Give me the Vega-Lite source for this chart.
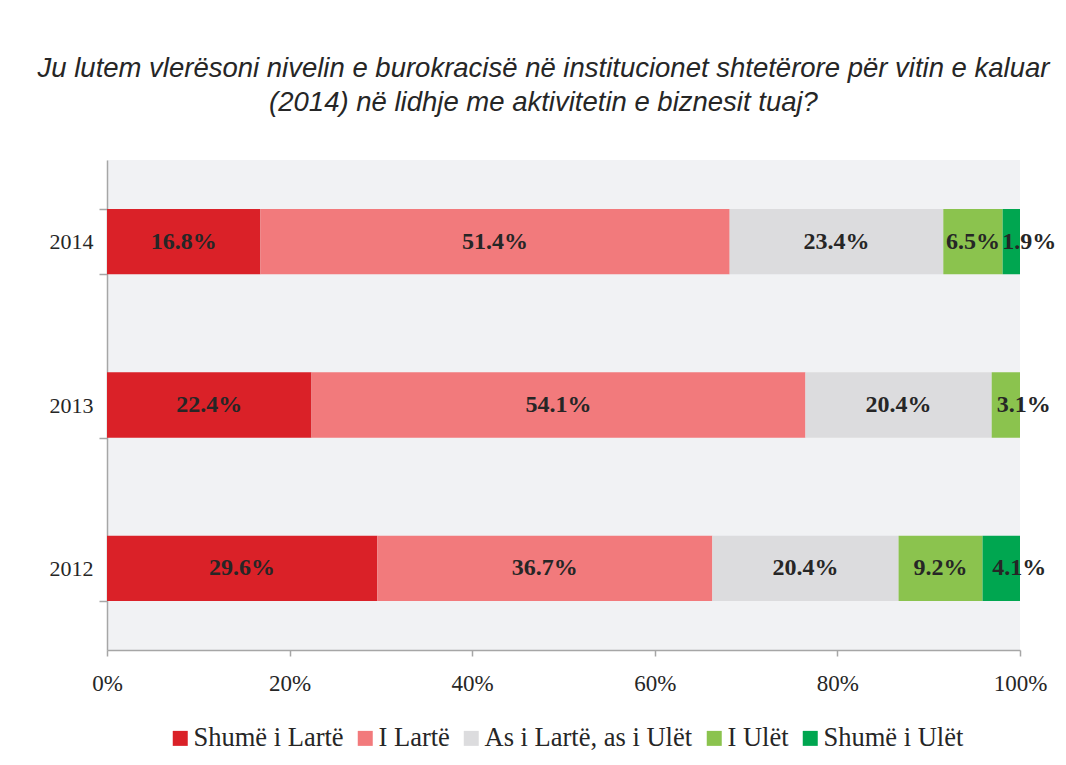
{
  "$schema": "https://vega.github.io/schema/vega-lite/v6.json",
  "width": 913,
  "height": 490,
  "autosize": {"type": "none"},
  "padding": {"left": 107, "top": 160, "right": 46, "bottom": 115},
  "background": "white",
  "title": {
    "text": ["Ju lutem vlerësoni nivelin e burokracisë në institucionet shtetërore për vitin e kaluar", "(2014) në lidhje me aktivitetin e biznesit tuaj?"],
    "font": "Liberation Sans",
    "fontStyle": "italic",
    "fontWeight": "normal",
    "fontSize": 27.5,
    "lineHeight": 34,
    "color": "#262626",
    "anchor": "middle",
    "dx": -20,
    "offset": 33
  },
  "data": {
    "values": [
      {"year": "2014", "cat": "Shumë i Lartë", "order": 1, "value": 0.168},
      {"year": "2014", "cat": "I Lartë", "order": 2, "value": 0.514},
      {"year": "2014", "cat": "As i Lartë, as i Ulët", "order": 3, "value": 0.234},
      {"year": "2014", "cat": "I Ulët", "order": 4, "value": 0.065},
      {"year": "2014", "cat": "Shumë i Ulët", "order": 5, "value": 0.019},
      {"year": "2013", "cat": "Shumë i Lartë", "order": 1, "value": 0.224},
      {"year": "2013", "cat": "I Lartë", "order": 2, "value": 0.541},
      {"year": "2013", "cat": "As i Lartë, as i Ulët", "order": 3, "value": 0.204},
      {"year": "2013", "cat": "I Ulët", "order": 4, "value": 0.031},
      {"year": "2012", "cat": "Shumë i Lartë", "order": 1, "value": 0.296},
      {"year": "2012", "cat": "I Lartë", "order": 2, "value": 0.367},
      {"year": "2012", "cat": "As i Lartë, as i Ulët", "order": 3, "value": 0.204},
      {"year": "2012", "cat": "I Ulët", "order": 4, "value": 0.092},
      {"year": "2012", "cat": "Shumë i Ulët", "order": 5, "value": 0.041}
    ]
  },
  "encoding": {
    "y": {
      "field": "year",
      "type": "nominal",
      "sort": "descending",
      "scale": {"paddingInner": 0.6, "paddingOuter": 0.3},
      "axis": {
        "title": null,
        "tickBand": "extent",
        "tickSize": 8,
        "tickColor": "#A6A6A6",
        "domainColor": "#A6A6A6",
        "domainWidth": 1.5,
        "tickWidth": 1.5,
        "labelFont": "Liberation Serif",
        "labelFontSize": 22,
        "labelColor": "#262626",
        "labelPadding": 6
      }
    },
    "x": {
      "field": "value",
      "type": "quantitative",
      "stack": "zero",
      "scale": {"domain": [0, 1], "nice": false},
      "axis": {
        "title": null,
        "values": [0, 0.2, 0.4, 0.6, 0.8, 1],
        "format": ".0%",
        "grid": false,
        "labelFlush": false,
        "tickSize": 6,
        "tickColor": "#A6A6A6",
        "domainColor": "#A6A6A6",
        "domainWidth": 1.5,
        "tickWidth": 1.5,
        "labelFont": "Liberation Serif",
        "labelFontSize": 23,
        "labelColor": "#262626",
        "labelPadding": 16
      }
    },
    "order": {"field": "order", "type": "quantitative", "sort": "ascending"}
  },
  "layer": [
    {
      "mark": {"type": "bar"},
      "encoding": {
        "color": {
          "field": "cat",
          "type": "nominal",
          "sort": ["Shumë i Lartë", "I Lartë", "As i Lartë, as i Ulët", "I Ulët", "Shumë i Ulët"],
          "scale": {
            "domain": ["Shumë i Lartë", "I Lartë", "As i Lartë, as i Ulët", "I Ulët", "Shumë i Ulët"],
            "range": ["#DA2128", "#F27A7C", "#DCDCDE", "#8BC34E", "#00A650"]
          },
          "legend": {
            "title": null,
            "orient": "none",
            "legendX": 60,
            "legendY": 565,
            "direction": "horizontal",
            "symbolType": "square",
            "symbolSize": 225,
            "symbolStrokeWidth": 0,
            "labelFont": "Liberation Serif",
            "labelFontSize": 26.5,
            "labelColor": "#262626",
            "labelLimit": 400,
            "labelOffset": 0,
            "columnPadding": 8
          }
        }
      }
    },
    {
      "mark": {"type": "text", "font": "Liberation Serif", "fontWeight": "bold", "fontSize": 24, "color": "#262626", "baseline": "middle", "align": "center", "dx": {"expr": "-scale('x', datum.value) / 2 + (datum.value < 0.045 ? 18 : 0)"}},
      "encoding": {
        "text": {"field": "value", "type": "quantitative", "format": ".1%"}
      }
    }
  ],
  "config": {
    "view": {"fill": "#F1F2F4", "stroke": null},
    "axis": {"labelFontWeight": "normal"}
  }
}
